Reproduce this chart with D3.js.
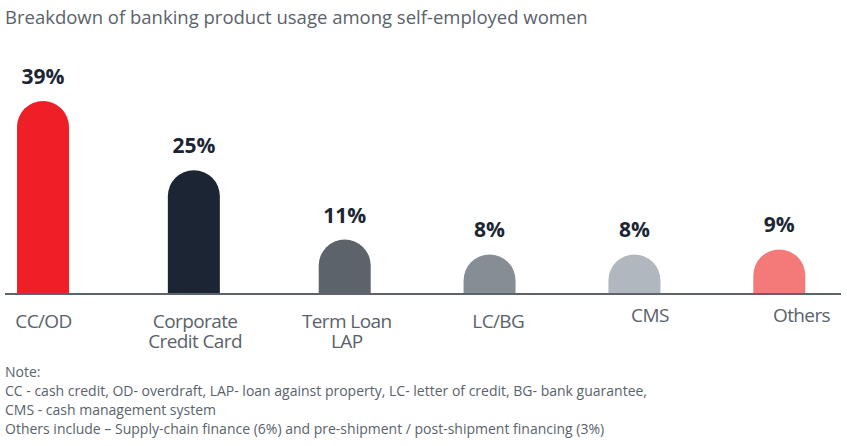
<!DOCTYPE html>
<html><head><meta charset="utf-8">
<script src="https://cdn.jsdelivr.net/npm/d3@7"></script>
<style>body{margin:0;background:#fff;} svg{display:block;font-family:"Open Sans",sans-serif;}</style>
</head><body>
<svg id="chart" width="847" height="446"></svg>
<script>
const title = "Breakdown of banking product usage among self-employed women";
const categories = [["CC/OD"], ["Corporate", "Credit Card"], ["Term Loan", "LAP"], ["LC/BG"], ["CMS"], ["Others"]];
const values = [39, 25, 11, 8, 8, 9];
const valueLabels = ["39%", "25%", "11%", "8%", "8%", "9%"];
const colors = ["#ee1f26", "#1b2533", "#5c636b", "#858d95", "#b0b7be", "#f47a7a"];
const notes = [
  "Note:",
  "CC - cash credit, OD- overdraft, LAP- loan against property, LC- letter of credit, BG- bank guarantee,",
  "CMS - cash management system",
  "Others include \u2013 Supply-chain finance (6%) and pre-shipment / post-shipment financing (3%)"
];

const svg = d3.select("#chart");
const base = 294;
const y = d3.scaleLinear().domain([0, 40]).range([base, 96]);
const x = d3.scaleLinear().domain([0, 2, 5]).range([43, 344.7, 779.3]);
const xl = d3.scaleLinear().domain([0, 5]).range([43.5, 801.5]);
const bw = 52;
const gray = "#5a626b";

svg.append("text").attr("x", 5).attr("y", 24).attr("font-size", 18.5).attr("fill", gray).text(title);

const idx = d3.range(values.length);
svg.selectAll("path.bar").data(idx).join("path").attr("class", "bar")
  .attr("fill", i => colors[i])
  .attr("d", i => {
    const cx = x(i), top = y(values[i]), r = bw / 2, l = cx - r, rt = cx + r;
    return `M${l},${base}V${top + r}A${r},${r} 0 0 1 ${rt},${top + r}V${base}Z`;
  });

svg.append("line").attr("x1", 5).attr("x2", 841).attr("y1", base).attr("y2", base)
  .attr("stroke", "#5c636b").attr("stroke-width", 2);

svg.selectAll("text.val").data(idx).join("text").attr("class", "val")
  .attr("x", i => x(i)).attr("y", i => y(values[i]) - 17)
  .attr("text-anchor", "middle").attr("font-size", 21).attr("font-weight", 700)
  .attr("fill", "#1b2533").text(i => valueLabels[i]);

const lab = svg.selectAll("text.cat").data(idx).join("text").attr("class", "cat")
  .attr("text-anchor", "middle").attr("font-size", 19).attr("fill", gray)
  .attr("letter-spacing", -0.6)
  .attr("y", i => i >= 4 ? 322 : 328);
lab.selectAll("tspan").data(i => categories[i].map(t => ({t, i}))).join("tspan")
  .attr("x", d => xl(d.i)).attr("dy", (d, k) => k === 0 ? 0 : 20).text(d => d.t);

svg.selectAll("text.note").data(notes).join("text").attr("class", "note")
  .attr("x", 5).attr("y", (d, i) => 377 + i * 19).attr("font-size", 14).attr("fill", gray).text(d => d);
</script>
</body></html>
